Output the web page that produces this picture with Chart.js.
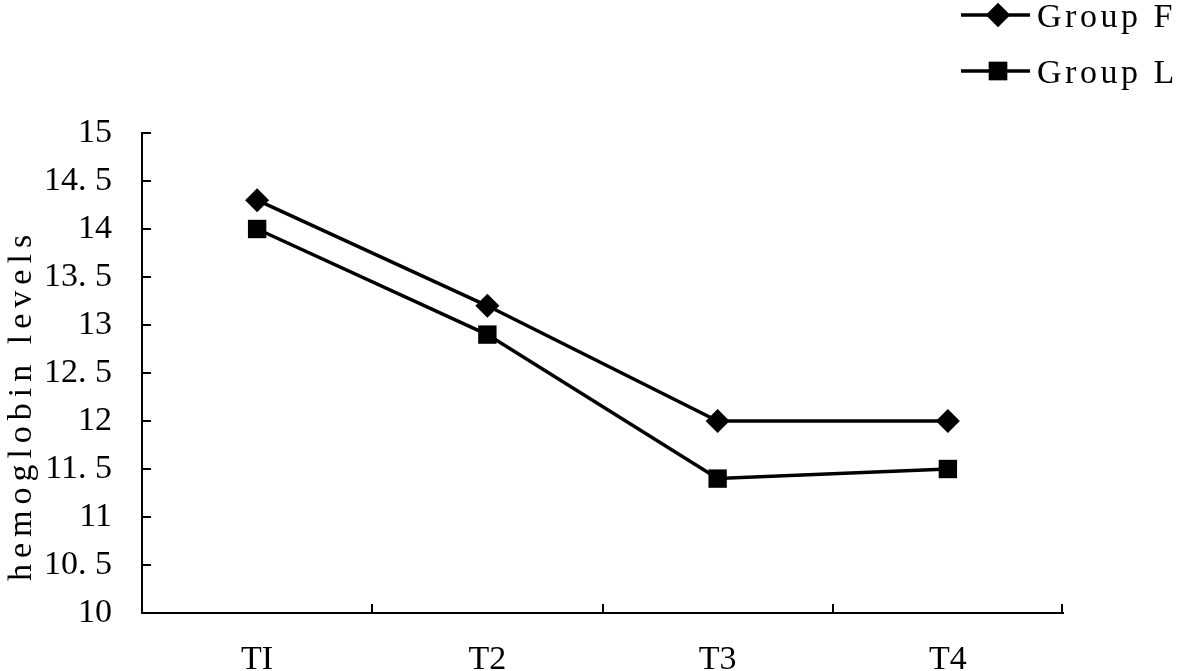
<!DOCTYPE html>
<html lang="en">
<head>
    <meta charset="UTF-8">
    <title>Hemoglobin levels</title>
    <script src="https://cdn.jsdelivr.net/npm/chart.js"></script>
    <style>
        body { margin: 0; padding: 0; background: #ffffff; }
        .chart-box { width: 1181px; height: 671px; }
    </style>
</head>
<body>
    <div class="chart-box"><canvas id="hbChart"></canvas></div>
    <script>
        // data
        const categories = ['TI', 'T2', 'T3', 'T4'];
        const groupF = [14.3, 13.2, 12.0, 12.0];
        const groupL = [14.0, 12.9, 11.4, 11.5];
        const yTickLabels = ['10', '10. 5', '11', '11. 5', '12', '12. 5', '13', '13. 5', '14', '14. 5', '15'];
        const seriesNames = ['Group F', 'Group L'];
        const yTitle = 'hemoglobin levels';

        const FONT = "'Liberation Serif', serif";

        // inward tick marks, rotated y title and line+marker legend
        const extras = {
            id: 'extras',
            afterDraw(chart) {
                const ctx = chart.ctx;
                const x = chart.scales.x, y = chart.scales.y;
                const area = chart.chartArea;
                ctx.save();
                ctx.strokeStyle = '#000';
                ctx.lineWidth = 2;
                ctx.beginPath();
                y.ticks.forEach((t, i) => {
                    const py = Math.round(y.getPixelForTick(i));
                    ctx.moveTo(area.left, py);
                    ctx.lineTo(area.left + 9, py);
                });
                for (let i = 1; i <= categories.length; i++) {
                    const px = i < categories.length
                        ? Math.round((x.getPixelForValue(i - 1) + x.getPixelForValue(i)) / 2)
                        : Math.round(area.right) - 1;
                    ctx.moveTo(px, area.bottom);
                    ctx.lineTo(px, area.bottom - 9);
                }
                ctx.stroke();

                // y title
                ctx.fillStyle = '#000';
                ctx.font = '34px ' + FONT;
                ctx.letterSpacing = '6px';
                ctx.textAlign = 'center';
                ctx.textBaseline = 'middle';
                ctx.translate(22, 405);
                ctx.rotate(-Math.PI / 2);
                ctx.fillText(yTitle, 0, 0);
                ctx.restore();

                // legend
                ctx.save();
                const rows = [15, 71];
                chart.data.datasets.forEach((ds, i) => {
                    const ly = rows[i];
                    ctx.strokeStyle = '#000';
                    ctx.lineWidth = 3.5;
                    ctx.beginPath();
                    ctx.moveTo(961, ly);
                    ctx.lineTo(1030, ly);
                    ctx.stroke();
                    Chart.helpers.drawPoint(ctx, {
                        pointStyle: ds.pointStyle,
                        radius: ds.pointRadius,
                        borderWidth: 0
                    }, 998, ly);
                    ctx.fillStyle = '#000';
                    ctx.fill();
                    ctx.font = '34px ' + FONT;
                    ctx.letterSpacing = '3.5px';
                    ctx.textAlign = 'left';
                    ctx.textBaseline = 'middle';
                    ctx.fillText(ds.label, 1037, ly + 3);
                });
                ctx.restore();
            }
        };

        const ctx = document.getElementById('hbChart').getContext('2d');
        const hbChart = new Chart(ctx, {
            type: 'line',
            data: {
                labels: categories,
                datasets: [{
                    label: seriesNames[0],
                    data: groupF,
                    borderColor: '#000',
                    backgroundColor: '#000',
                    borderWidth: 3.5,
                    pointStyle: 'rectRot',
                    pointRadius: 12,
                    pointBackgroundColor: '#000',
                    pointBorderWidth: 0,
                    tension: 0
                }, {
                    label: seriesNames[1],
                    data: groupL,
                    borderColor: '#000',
                    backgroundColor: '#000',
                    borderWidth: 3.5,
                    pointStyle: 'rect',
                    pointRadius: 13,
                    pointBackgroundColor: '#000',
                    pointBorderWidth: 0,
                    tension: 0
                }]
            },
            options: {
                responsive: true,
                maintainAspectRatio: false,
                animation: false,
                layout: { padding: { top: 133, right: 118, left: 0, bottom: 0 } },
                plugins: {
                    legend: { display: false },
                    tooltip: { enabled: false }
                },
                scales: {
                    x: {
                        offset: true,
                        grid: { display: false, drawTicks: false },
                        border: { display: true, color: '#000', width: 2 },
                        ticks: {
                            color: '#000',
                            padding: 27,
                            font: { family: FONT, size: 34 }
                        },
                        afterFit(scale) { scale.height = 58; }
                    },
                    y: {
                        min: 10,
                        max: 15,
                        grid: { display: false, drawTicks: false },
                        border: { display: true, color: '#000', width: 2 },
                        ticks: {
                            stepSize: 0.5,
                            color: '#000',
                            padding: 30,
                            font: { family: FONT, size: 34 },
                            callback: (v, i) => yTickLabels[i]
                        },
                        afterFit(scale) { scale.width = 142; }
                    }
                }
            },
            plugins: [extras]
        });
    </script>
</body>
</html>
